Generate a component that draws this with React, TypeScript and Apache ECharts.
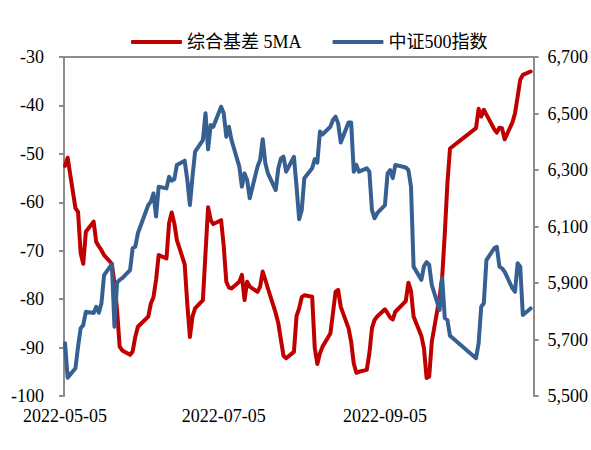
import React, { useEffect, useRef } from "react";
import * as echarts from "echarts";

const dates = [
  "2022-05-05", "2022-05-06", "2022-05-09", "2022-05-10", "2022-05-11", "2022-05-12", "2022-05-13",
  "2022-05-16", "2022-05-17", "2022-05-18", "2022-05-19", "2022-05-20", "2022-05-23", "2022-05-24",
  "2022-05-25", "2022-05-26", "2022-05-27", "2022-05-30", "2022-05-31",
  "2022-06-01", "2022-06-02", "2022-06-06", "2022-06-07", "2022-06-08", "2022-06-09", "2022-06-10",
  "2022-06-13", "2022-06-14", "2022-06-15", "2022-06-16", "2022-06-17", "2022-06-20", "2022-06-21",
  "2022-06-22", "2022-06-23", "2022-06-24", "2022-06-27", "2022-06-28", "2022-06-29", "2022-06-30",
  "2022-07-01", "2022-07-04", "2022-07-05", "2022-07-06", "2022-07-07", "2022-07-08", "2022-07-11",
  "2022-07-12", "2022-07-13", "2022-07-14", "2022-07-15", "2022-07-18", "2022-07-19", "2022-07-20",
  "2022-07-21", "2022-07-22", "2022-07-25", "2022-07-26", "2022-07-27", "2022-07-28", "2022-07-29",
  "2022-08-01", "2022-08-02", "2022-08-03", "2022-08-04", "2022-08-05", "2022-08-08", "2022-08-09",
  "2022-08-10", "2022-08-11", "2022-08-12", "2022-08-15", "2022-08-16", "2022-08-17", "2022-08-18",
  "2022-08-19", "2022-08-22", "2022-08-23", "2022-08-24", "2022-08-25", "2022-08-26", "2022-08-29",
  "2022-08-30", "2022-08-31",
  "2022-09-01", "2022-09-02", "2022-09-05", "2022-09-06", "2022-09-07", "2022-09-08", "2022-09-09",
  "2022-09-13", "2022-09-14", "2022-09-15", "2022-09-16", "2022-09-19", "2022-09-20", "2022-09-21",
  "2022-09-22", "2022-09-23", "2022-09-26", "2022-09-27", "2022-09-28", "2022-09-29", "2022-09-30",
  "2022-10-10", "2022-10-11", "2022-10-12", "2022-10-13", "2022-10-14", "2022-10-17", "2022-10-18",
  "2022-10-19", "2022-10-20", "2022-10-21", "2022-10-24", "2022-10-25", "2022-10-26", "2022-10-27",
  "2022-10-28", "2022-10-31",
];

const basis5MA = [
  -52.5, -50.8, -61.2, -62.0, -70.5, -72.7, -66.1, -64.0, -68.2, -69.1, -69.9, -70.9, -72.7, -76.7,
  -82.2, -89.8, -90.6, -91.5, -90.8,
  -87.8, -85.7, -83.6, -80.9, -79.6, -76.0, -70.9, -71.6, -64.3, -62.1, -64.3, -67.8, -72.8, -81.0,
  -87.8, -83.6, -81.9, -80.2, -70.5, -61.0, -63.7,
  -64.5, -63.7, -69.0, -76.4, -77.6, -77.8, -76.4, -75.0, -80.2, -76.4, -77.4, -78.5, -77.4, -74.3,
  -76.0, -77.8, -82.9, -85.0, -88.4, -91.7, -92.2,
  -90.9, -83.5, -81.9, -79.6, -79.2, -79.5, -90.0, -93.4, -91.2, -89.8, -87.1, -82.9, -78.5, -78.1,
  -81.6, -86.0, -88.8, -93.3, -95.2, -95.0, -94.6, -91.2, -86.0,
  -84.3, -83.6, -82.1, -82.9, -83.8, -84.2, -82.6, -80.4, -76.6, -78.3, -83.6, -87.6, -90.2, -96.3,
  -96.0, -88.8, -79.6, -75.4, -66.4, -56.1, -48.9,
  -44.7, -40.7, -42.3, -40.9, -41.9, -44.9, -45.6, -44.6, -44.7, -47.0, -43.5, -41.6, -38.2, -34.7,
  -33.7, -33.0,
];

const csi500 = [
  5687, 5565, 5598, 5674, 5740, 5751, 5798, 5794, 5816, 5795, 5828, 5928, 5967, 5745,
  5901, 5911, 5917, 5946, 6023,
  6028, 6076, 6176, 6188, 6217, 6135, 6241, 6235, 6276, 6262, 6267, 6318, 6333, 6265,
  6176, 6276, 6365, 6406, 6501, 6373, 6459,
  6453, 6524, 6501, 6418, 6453, 6406, 6312, 6241, 6288, 6265, 6200, 6312, 6335, 6409,
  6324, 6288, 6229, 6306, 6341, 6347, 6294,
  6347, 6241, 6126, 6158, 6271, 6306, 6338, 6326, 6436, 6426, 6453, 6477, 6489, 6465,
  6397, 6468, 6468, 6294, 6318, 6294, 6306, 6294, 6158,
  6129, 6147, 6176, 6288, 6300, 6271, 6318, 6309, 6300, 6241, 5958, 5911, 5960, 5974,
  5964, 5893, 5804, 5917, 5776, 5769, 5713,
  5634, 5686, 5816, 5828, 5981, 6023, 6028, 5958, 5952, 5940, 5881, 5869, 5970, 5958,
  5787, 5810,
];

const xLabelDates = ["2022-05-05", "2022-07-05", "2022-09-05"];
const seriesNames = ["综合基差 5MA", "中证500指数"];

const DAY = 86400000;
function ts(s: string): number {
  const [y, m, d] = s.split("-").map(Number);
  return new Date(y, m - 1, d).getTime();
}
function fmtDate(v: number): string {
  const dd = new Date(v + 12 * 3600000);
  const y = dd.getFullYear();
  const m = String(dd.getMonth() + 1).padStart(2, "0");
  const day = String(dd.getDate()).padStart(2, "0");
  return `${y}-${m}-${day}`;
}

export default function App() {
  const ref = useRef<HTMLDivElement>(null);
  useEffect(() => {
    const chart = echarts.init(ref.current!, null, { renderer: "svg" });
    const font = "'Liberation Serif','Times New Roman',serif";
    const xMin = ts(dates[0]) - 0.4 * DAY;
    const xMax = ts(dates[dates.length - 1]) + 1.1 * DAY;
    const axisColor = "#8c8c8c";
    chart.setOption({
      animation: false,
      backgroundColor: "#ffffff",
      legend: {
        left: 126,
        top: 28,
        itemWidth: 51,
        itemHeight: 4,
        itemGap: 31,
        icon: "roundRect",
        data: seriesNames,
        textStyle: {
          fontFamily: "'Liberation Serif','Noto Sans CJK SC',serif",
          fontSize: 18,
          color: "#000",
        },
      },
      grid: { left: 64, right: 52, top: 57, bottom: 54 },
      xAxis: [
        {
          type: "value",
          min: xMin,
          max: xMax,
          position: "bottom",
          axisLine: { show: false },
          axisTick: { show: false },
          splitLine: { show: false },
          axisLabel: {
            customValues: xLabelDates.map(ts),
            formatter: (v: number) => fmtDate(v),
            color: "#000",
            fontFamily: font,
            fontSize: 18,
            margin: 11,
            hideOverlap: false,
            showMinLabel: true,
            showMaxLabel: true,
          },
        },
        {
          type: "value",
          min: xMin,
          max: xMax,
          position: "top",
          axisLine: { show: true, lineStyle: { color: axisColor, width: 2 } },
          axisTick: { show: false },
          axisLabel: { show: false },
          splitLine: { show: false },
        },
      ],
      yAxis: [
        {
          type: "value",
          position: "left",
          min: -100,
          max: -30,
          interval: 10,
          axisLine: { show: true, lineStyle: { color: axisColor, width: 2 } },
          axisTick: { show: true, length: 5, lineStyle: { color: axisColor, width: 2 } },
          splitLine: { show: false },
          axisLabel: { color: "#000", fontFamily: font, fontSize: 18, margin: 20 },
        },
        {
          type: "value",
          position: "right",
          min: 5500,
          max: 6700,
          interval: 200,
          axisLine: { show: true, lineStyle: { color: axisColor, width: 2 } },
          axisTick: { show: true, length: 5, lineStyle: { color: axisColor, width: 2 } },
          splitLine: { show: false },
          axisLabel: {
            color: "#000",
            fontFamily: font,
            fontSize: 18,
            margin: 14,
            formatter: (v: number) => v.toLocaleString("en-US"),
          },
        },
      ],
      series: [
        {
          name: seriesNames[0],
          type: "line",
          xAxisIndex: 0,
          yAxisIndex: 0,
          symbol: "none",
          data: dates.map((d, i) => [ts(d), basis5MA[i]]),
          lineStyle: { color: "#C00000", width: 4, join: "round", cap: "round" },
          itemStyle: { color: "#C00000" },
        },
        {
          name: seriesNames[1],
          type: "line",
          xAxisIndex: 0,
          yAxisIndex: 1,
          symbol: "none",
          data: dates.map((d, i) => [ts(d), csi500[i]]),
          lineStyle: { color: "#376092", width: 4, join: "round", cap: "round" },
          itemStyle: { color: "#376092" },
        },
      ],
    });
    return () => chart.dispose();
  }, []);
  return (
    <div
      ref={ref}
      style={{ position: "fixed", left: 0, top: 0, width: 591, height: 450, background: "#fff" }}
    />
  );
}
